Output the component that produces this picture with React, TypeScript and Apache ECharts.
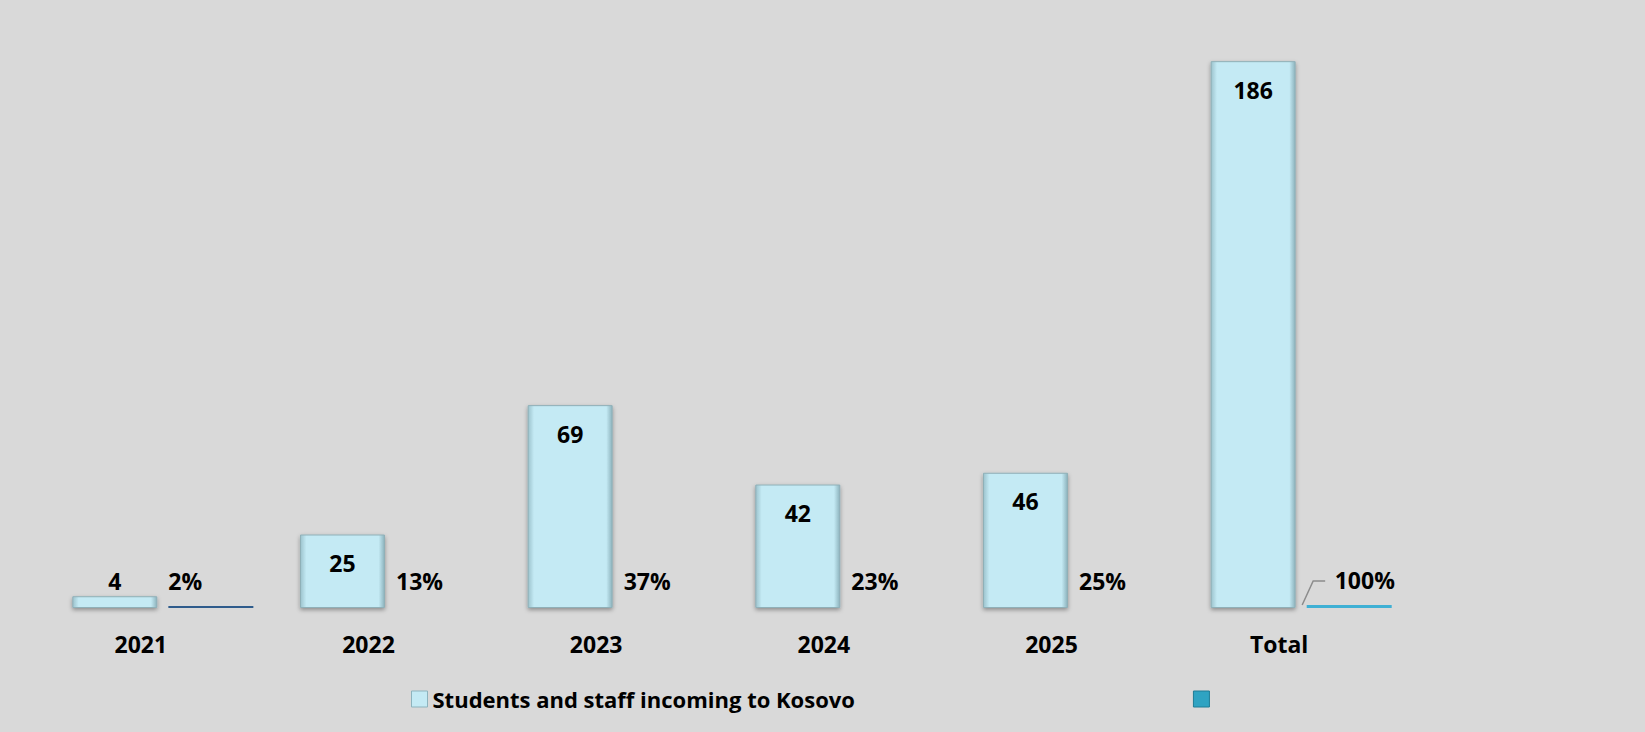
import React, { useEffect, useRef } from "react";
import * as echarts from "echarts";

const categories = ["2021", "2022", "2023", "2024", "2025", "Total"];
const incoming = [4, 25, 69, 42, 46, 186];
const shares = [0.02, 0.13, 0.37, 0.23, 0.25, 1.0];
const seriesNames = ["Students and staff incoming to Kosovo", " "];

const FONT = "'Open Sans', 'Noto Sans', sans-serif";

export default function App() {
  const ref = useRef<HTMLDivElement>(null);
  useEffect(() => {
    document.body.style.margin = "0";
    const chart = echarts.init(ref.current!, null, { renderer: "svg" });
    const barFill = {
      type: "linear", x: 0, y: 0, x2: 1, y2: 0,
      colorStops: [
        { offset: 0, color: "#9cc3cd" },
        { offset: 0.07, color: "#c4eaf4" },
        { offset: 0.93, color: "#c4eaf4" },
        { offset: 1, color: "#8db3bd" },
      ],
    };
    const last = categories.length - 1;
    const shareColors = (i: number) =>
      i === 0 ? "#2f5c8c" : i === last ? "#3fb0d4" : "rgba(0,0,0,0)";
    chart.setOption({
      animation: false,
      backgroundColor: "#d9d9d9",
      grid: { left: 49, right: 230, top: 20, bottom: 124 },
      xAxis: {
        type: "category",
        data: categories,
        axisLine: { show: false },
        axisTick: { show: false },
        axisLabel: {
          fontFamily: FONT,
          fontWeight: "bold",
          fontSize: 23,
          color: "#000",
          margin: 24,
          padding: [0, 44, 0, 0],
        },
      },
      yAxis: { type: "value", min: 0, max: 200, show: false, splitLine: { show: false } },
      legend: {
        left: 406,
        top: 683,
        itemWidth: 16,
        itemHeight: 16,
        itemGap: 338,
        textStyle: { fontFamily: FONT, fontWeight: "bold", fontSize: 22, color: "#000" },
        data: [
          { name: seriesNames[0], icon: "rect", itemStyle: { color: "#c4eaf4", borderColor: "#8db3bd", borderWidth: 1 } },
          { name: seriesNames[1], icon: "rect", itemStyle: { color: "#2fa3c2", borderColor: "#1f7d96", borderWidth: 1 } },
        ],
      },
      series: [
        {
          name: seriesNames[0],
          type: "bar",
          barWidth: 85,
          barGap: "13%",
          data: incoming.map((v) => ({
            value: v,
            label: v < 10 ? { position: "top", distance: 4 } : undefined,
          })),
          itemStyle: {
            color: barFill,
            borderColor: "#8fb0b8",
            borderWidth: 1,
            shadowColor: "rgba(0,0,0,0.35)",
            shadowBlur: 4,
            shadowOffsetY: 2,
          },
          label: {
            show: true,
            position: "insideTop",
            distance: 17,
            fontFamily: FONT,
            fontWeight: "bold",
            fontSize: 23,
            color: "#000",
          },
        },
        {
          name: seriesNames[1],
          type: "bar",
          barWidth: 85,
          barMinHeight: 2,
          data: shares.map((v, i) => ({ value: v, itemStyle: { color: shareColors(i) } })),
          itemStyle: { color: "#3fb0d4" },
          label: {
            show: true,
            position: [0, -25],
            align: "left",
            verticalAlign: "middle",
            formatter: (p: any) => Math.round(p.value * 100) + "%",
            fontFamily: FONT,
            fontWeight: "bold",
            fontSize: 23,
            color: "#000",
          },
          labelLayout: (p: any) => (p.dataIndex === last ? { dx: 28 } : {}),
        },
      ],
    });
    // leader line for the moved "100%" label, anchored via the axis scales
    const base = chart.convertToPixel({ gridIndex: 0 }, [last, 0]) as number[];
    const labelY = base[1] - 27;
    chart.setOption({
      graphic: [
        {
          type: "polyline",
          shape: {
            points: [
              [base[0] + 1, base[1] - 3],
              [base[0] + 12, labelY],
              [base[0] + 24, labelY],
            ],
          },
          style: { stroke: "#8c8c8c", lineWidth: 1.5, fill: null },
          silent: true,
        },
      ],
    });
    return () => chart.dispose();
  }, []);
  return <div ref={ref} style={{ width: 1645, height: 732 }} />;
}
